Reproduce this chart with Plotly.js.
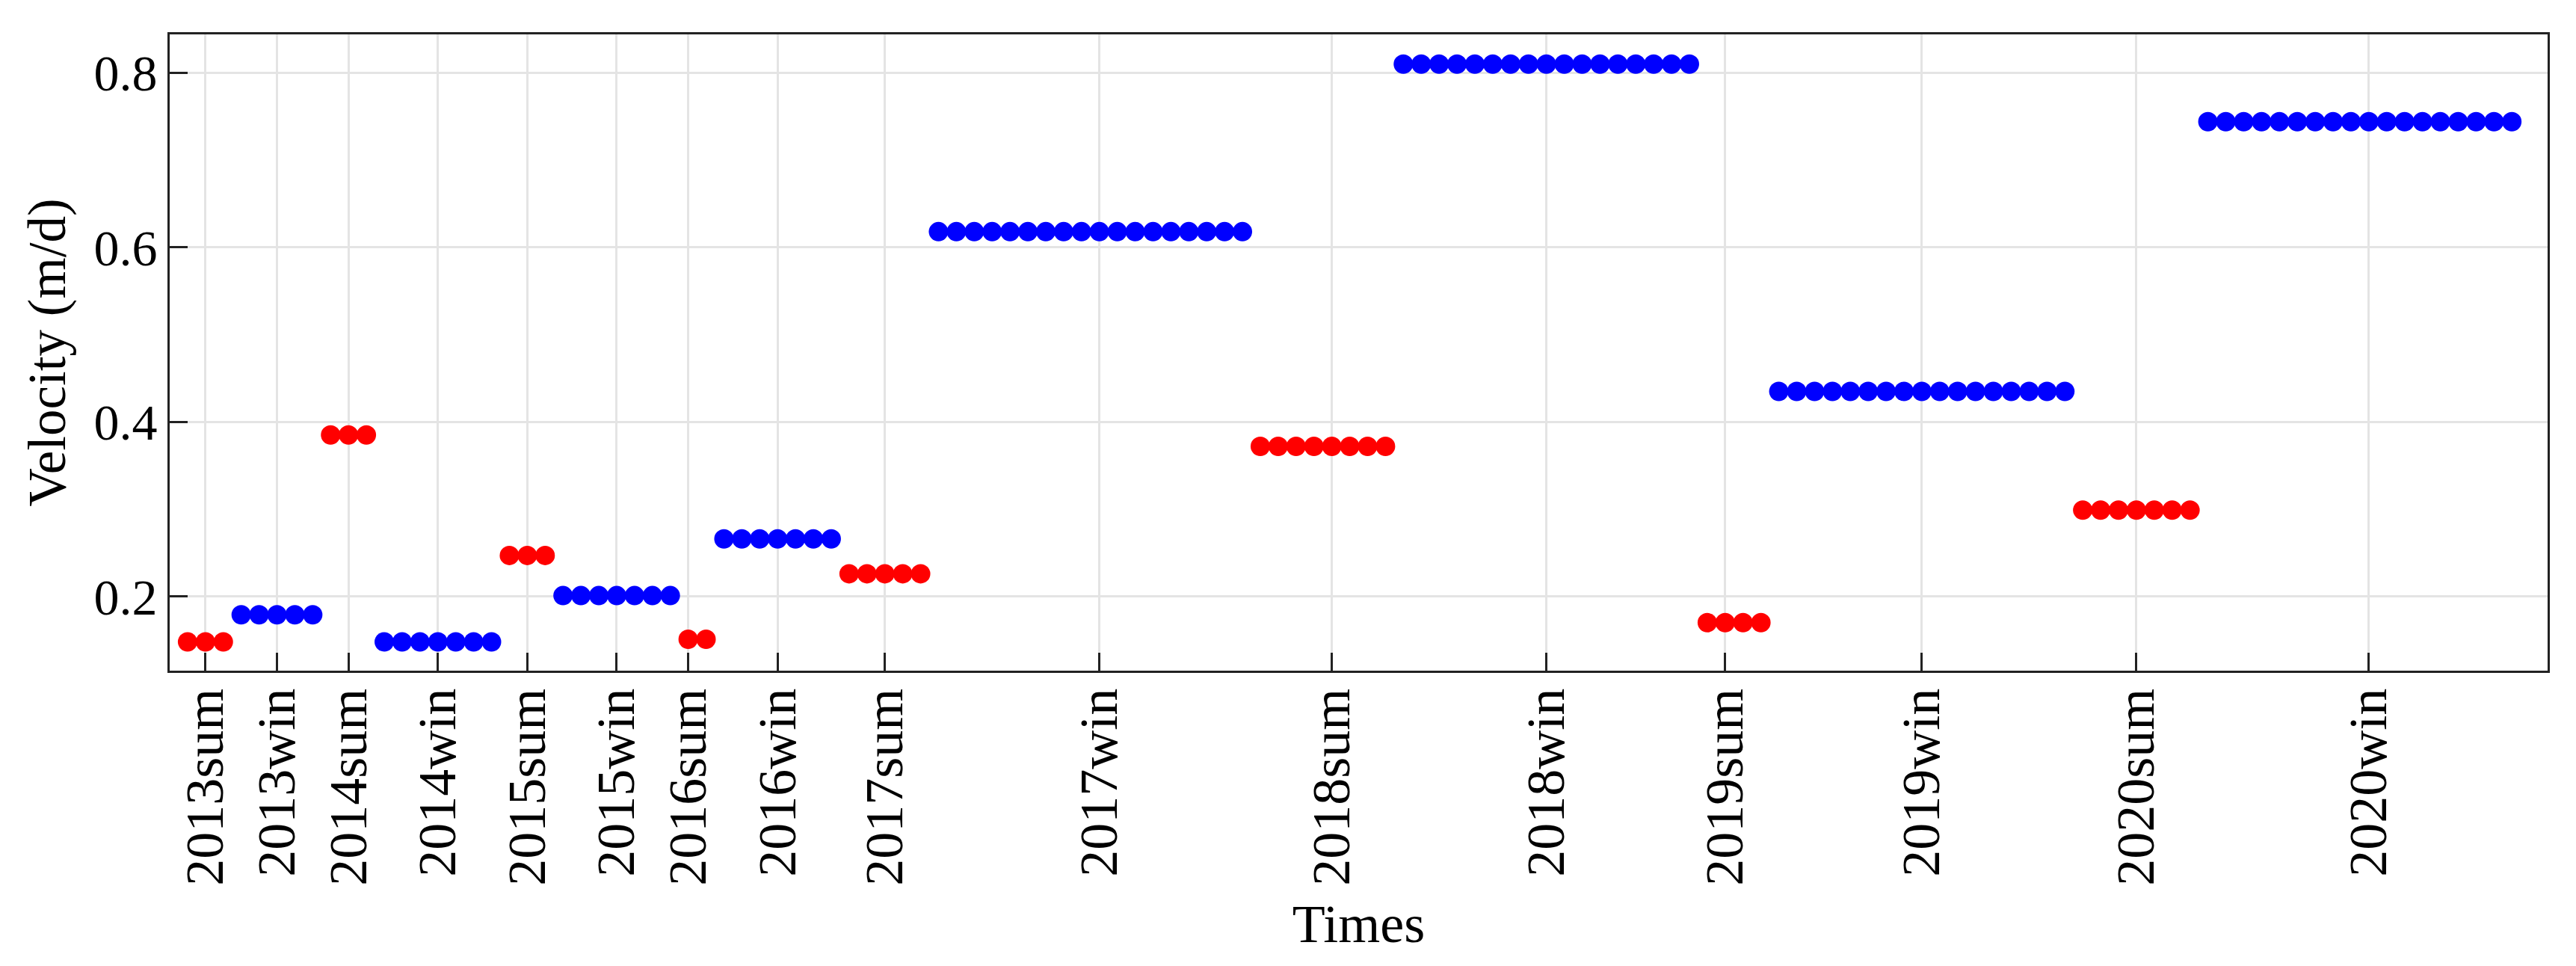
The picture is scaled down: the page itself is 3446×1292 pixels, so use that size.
<!DOCTYPE html>
<html>
<head>
<meta charset="utf-8">
<script src="https://cdn.plot.ly/plotly-3.0.1.min.js"></script>
<style>
  html, body { margin: 0; padding: 0; background: #fff; }
  #chart { width: 3446px; height: 1292px; }
</style>
</head>
<body>
<div id="chart"></div>
<script>
// season labels, one per group of image pairs
const periods = ['2013sum', '2013win', '2014sum', '2014win', '2015sum', '2015win',
  '2016sum', '2016win', '2017sum', '2017win', '2018sum', '2018win',
  '2019sum', '2019win', '2020sum', '2020win'];

// how many points each season has
const pointCounts = [3, 5, 3, 7, 3, 7, 2, 7, 5, 18, 8, 17, 4, 17, 7, 18];

// mean velocity (m/d) of each season
const velocity = [0.148, 0.179, 0.385, 0.148, 0.247, 0.201, 0.151, 0.266,
  0.226, 0.618, 0.372, 0.810, 0.170, 0.435, 0.299, 0.744];

// which point of the group carries the tick label
const labelOffset = [1, 2, 1, 3, 1, 3, 0, 3, 2, 9, 4, 8, 1, 8, 3, 9];

const FONT = 'Liberation Serif, Times New Roman, serif';

// expand groups into point series (summer red / winter blue)
const sumX = [], sumY = [], winX = [], winY = [];
const tickVals = [];
let idx = 1;
periods.forEach((p, g) => {
  const isSum = p.endsWith('sum');
  for (let k = 0; k < pointCounts[g]; k++) {
    if (isSum) { sumX.push(idx + k); sumY.push(velocity[g]); }
    else { winX.push(idx + k); winY.push(velocity[g]); }
  }
  tickVals.push(idx + labelOffset[g]);
  idx += pointCounts[g];
});

const traces = [
  {
    x: sumX, y: sumY, type: 'scatter', mode: 'markers', name: 'summer',
    marker: { size: 26, color: '#ff0000' }
  },
  {
    x: winX, y: winY, type: 'scatter', mode: 'markers', name: 'winter',
    marker: { size: 26, color: '#0000ff' }
  }
];

const axisCommon = {
  showline: true, linecolor: '#222', linewidth: 3, mirror: true,
  ticks: 'inside', ticklen: 24, tickwidth: 3, tickcolor: '#222',
  showgrid: true, gridcolor: '#e4e4e4', gridwidth: 3,
  zeroline: false
};

const layout = {
  width: 3446, height: 1292,
  paper_bgcolor: '#fff', plot_bgcolor: '#fff',
  showlegend: false,
  margin: { l: 227, r: 38, t: 46, b: 395 },
  font: { family: FONT, color: '#000' },
  xaxis: Object.assign({}, axisCommon, {
    range: [0, idx + 1],
    tickmode: 'array', tickvals: tickVals, ticktext: periods,
    tickangle: -90,
    tickfont: { family: FONT, size: 72, color: '#000' },
    ticklabelstandoff: -8,
    title: { text: 'Times', font: { family: FONT, size: 72, color: '#000' }, standoff: 26 }
  }),
  yaxis: Object.assign({}, axisCommon, {
    range: [0.115, 0.844],
    tickvals: [0.2, 0.4, 0.6, 0.8],
    tickformat: '.1f',
    tickfont: { family: FONT, size: 68, color: '#000' },
    ticklabelstandoff: 0,
    title: { text: 'Velocity (m/d)', font: { family: FONT, size: 71, color: '#000' }, standoff: 15 }
  })
};

Plotly.newPlot('chart', traces, layout, { staticPlot: true });
</script>
</body>
</html>
